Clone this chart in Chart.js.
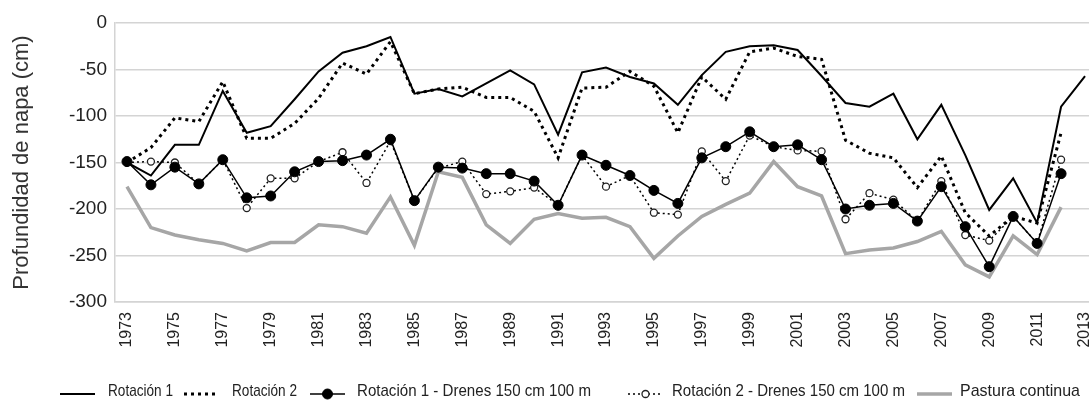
<!DOCTYPE html>
<html>
<head>
<meta charset="utf-8">
<script src="https://cdn.jsdelivr.net/npm/chart.js"></script>
<style>
    html, body { margin: 0; padding: 0; background: #fff; overflow: hidden; }
    #wrap { width: 1103px; height: 406px; }
</style>
</head>
<body>
<div id="wrap"><canvas id="napaChart" width="1103" height="406"></canvas></div>
<script>
const years = [];
for (let y = 1973; y <= 2013; y++) years.push(String(y));

const yTicks = [0, -50, -100, -150, -200, -250, -300];

const rotacion1 = [-150, -164, -131, -131, -73, -118, -111, -82, -52, -32,
    -25, -15, -76, -71, -79, -65, -51, -66, -120, -53,
    -48, -58, -65, -88, -56, -31, -25, -24, -29, -57,
    -86, -90, -76, -125, -88, -142, -201, -167, -215, -90,
    -57];

const rotacion2 = [-150, -134, -102, -106, -63, -124, -124, -108, -81, -43,
    -55, -20, -76, -71, -69, -80, -80, -95, -145, -70,
    -69, -52, -68, -118, -58, -82, -31, -27, -36, -39,
    -126, -140, -145, -177, -143, -204, -229, -208, -215, -118,
    null];

const rotacion1Drenes = [-149, -174, -155, -173, -147, -188, -186, -160, -149, -148,
    -142, -125, -191, -155, -156, -162, -162, -170, -196, -142,
    -153, -164, -180, -194, -145, -133, -117, -133, -131, -147,
    -200, -196, -194, -213, -176, -219, -262, -208, -237, -162,
    null];

const rotacion2Drenes = [-150, -149, -150, -173, -147, -199, -167, -167, -149, -139,
    -172, -127, -191, -156, -149, -184, -181, -177, -196, -142,
    -176, -164, -204, -206, -138, -170, -121, -133, -137, -138,
    -211, -183, -190, -213, -170, -228, -234, -208, -237, -147,
    null];

const pastura = [-176, -220, -228, -233, -237, -245, -236, -236, -217, -219,
    -226, -187, -239, -160, -166, -217, -237, -211, -205, -210,
    -209, -219, -253, -229, -208, -195, -183, -149, -176, -186,
    -248, -244, -242, -235, -224, -260, -273, -229, -249, -198,
    null];

const seriesNames = [
    "Rotación 1",
    "Rotación 2",
    "Rotación 1 - Drenes 150 cm 100 m",
    "Rotación 2 - Drenes 150 cm 100 m",
    "Pastura continua"
];

// legend is drawn by hand so the symbols look like the original;
// the original legend font is a narrow one, so text is squeezed with maxWidth
const legendPlugin = {
    id: "bottomLegend",
    afterDraw(chart) {
        const ctx = chart.ctx;
        const starts = [60, 184, 310, 628, 917];
        const textStart = [108, 232, 357, 672, 960];
        const textWidth = [65, 65, 234, 233, 120];
        const y = 394;
        chart.data.datasets.forEach((ds, i) => {
            const x0 = starts[i];
            ctx.save();
            ctx.strokeStyle = ds.borderColor;
            ctx.lineWidth = ds.borderWidth;
            ctx.setLineDash(ds.borderDash || []);
            ctx.beginPath();
            ctx.moveTo(x0, y);
            ctx.lineTo(x0 + 35, y);
            ctx.stroke();
            ctx.setLineDash([]);
            if (ds.pointRadius > 0) {
                ctx.beginPath();
                ctx.arc(x0 + 17.5, y, ds.pointRadius, 0, Math.PI * 2);
                ctx.fillStyle = ds.pointBackgroundColor;
                ctx.fill();
                ctx.lineWidth = ds.pointBorderWidth;
                ctx.strokeStyle = ds.pointBorderColor;
                ctx.stroke();
            }
            ctx.fillStyle = "#222";
            ctx.font = '17px "Liberation Sans", Arial, sans-serif';
            ctx.textBaseline = "middle";
            ctx.fillText(ds.label, textStart[i], y - 3, textWidth[i]);
            ctx.restore();
        });
    }
};

document.addEventListener("DOMContentLoaded", function () {
    const ctx = document.getElementById("napaChart").getContext("2d");

    new Chart(ctx, {
        type: "line",
        data: {
            labels: years,
            datasets: [
                {
                    label: seriesNames[0],
                    data: rotacion1,
                    borderColor: "#000",
                    borderWidth: 2,
                    pointRadius: 0,
                    order: 1
                },
                {
                    label: seriesNames[1],
                    data: rotacion2,
                    borderColor: "#000",
                    borderWidth: 3,
                    borderDash: [3, 4],
                    pointRadius: 0,
                    order: 2
                },
                {
                    label: seriesNames[2],
                    data: rotacion1Drenes,
                    borderColor: "#000",
                    borderWidth: 1.5,
                    pointRadius: 5,
                    pointBackgroundColor: "#000",
                    pointBorderColor: "#000",
                    pointBorderWidth: 1,
                    order: 3
                },
                {
                    label: seriesNames[3],
                    data: rotacion2Drenes,
                    borderColor: "#000",
                    borderWidth: 1.5,
                    borderDash: [2, 3],
                    pointRadius: 3.5,
                    pointBackgroundColor: "#fff",
                    pointBorderColor: "#222",
                    pointBorderWidth: 1.3,
                    order: 4
                },
                {
                    label: seriesNames[4],
                    data: pastura,
                    borderColor: "#a6a6a6",
                    borderWidth: 3.5,
                    pointRadius: 0,
                    order: 5
                }
            ]
        },
        options: {
            responsive: false,
            animation: false,
            layout: { padding: { top: 23, right: 1, left: 0, bottom: 44 } },
            plugins: {
                legend: { display: false },
                tooltip: { enabled: false }
            },
            scales: {
                x: {
                    offset: true,
                    grid: { display: false, drawTicks: false },
                    border: { display: true, color: "#d4d4d4", width: 1.5 },
                    ticks: {
                        autoSkip: false,
                        minRotation: 90,
                        maxRotation: 90,
                        padding: 10,
                        color: "#222",
                        font: { family: '"Liberation Sans", Arial, sans-serif', size: 16 },
                        callback: function (val, i) {
                            return i % 2 === 0 ? years[i] : null;
                        }
                    },
                    afterFit: function (scale) {
                        scale.height = 60;
                        scale.paddingLeft = 0;
                        scale.paddingRight = 0;
                    }
                },
                y: {
                    min: -300,
                    max: 0,
                    afterBuildTicks: function (scale) {
                        scale.ticks = yTicks.map(v => ({ value: v }));
                    },
                    grid: { color: "#d4d4d4", lineWidth: 1.5, drawTicks: false },
                    border: { display: true, color: "#d4d4d4", width: 1.5 },
                    ticks: {
                        padding: 8,
                        color: "#222",
                        font: { family: '"Liberation Sans", Arial, sans-serif', size: 19 },
                        callback: v => String(v)
                    },
                    title: {
                        display: true,
                        text: "Profundidad de napa (cm)",
                        color: "#333",
                        padding: { top: 9, bottom: 0 },
                        font: { family: '"Liberation Sans", Arial, sans-serif', size: 22 }
                    },
                    afterFit: function (scale) { scale.width = 115; }
                }
            }
        },
        plugins: [legendPlugin]
    });
});
</script>
</body>
</html>
